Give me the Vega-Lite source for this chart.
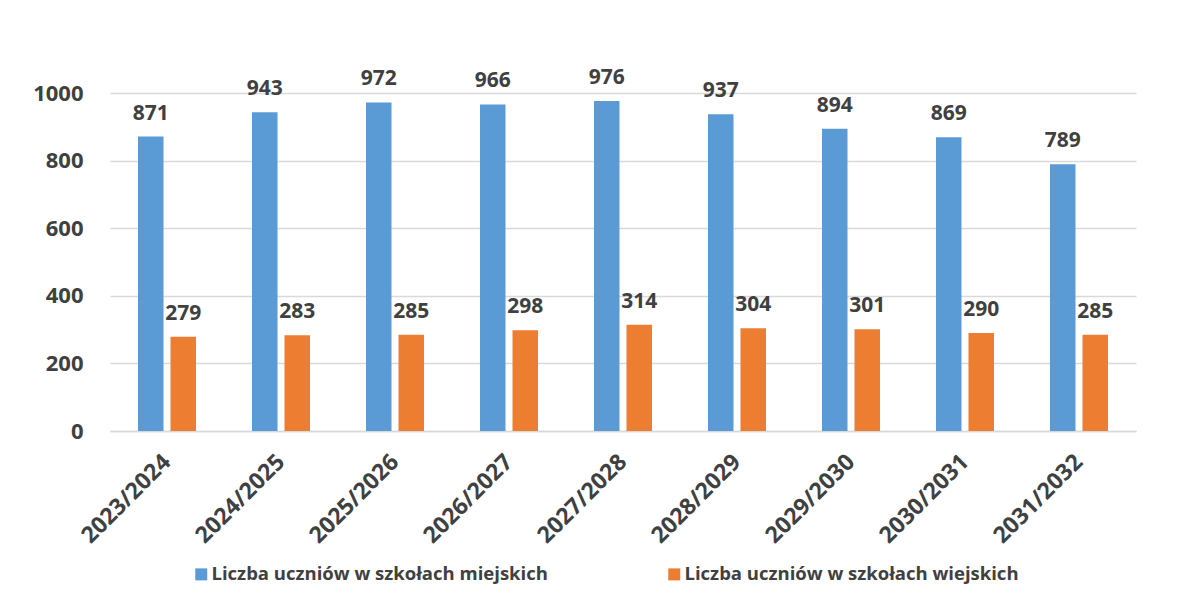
{
  "$schema": "https://vega.github.io/schema/vega-lite/v6.json",
  "width": 1026,
  "height": 338,
  "autosize": "none",
  "padding": {"left": 110, "top": 93, "right": 42, "bottom": 176},
  "background": "white",
  "config": {"view": {"stroke": null}, "font": "Open Sans"},
  "data": {
    "values": [
      {"rok": "2023/2024", "seria": "Liczba uczniów w szkołach miejskich", "wartosc": 871},
      {"rok": "2023/2024", "seria": "Liczba uczniów w szkołach wiejskich", "wartosc": 279},
      {"rok": "2024/2025", "seria": "Liczba uczniów w szkołach miejskich", "wartosc": 943},
      {"rok": "2024/2025", "seria": "Liczba uczniów w szkołach wiejskich", "wartosc": 283},
      {"rok": "2025/2026", "seria": "Liczba uczniów w szkołach miejskich", "wartosc": 972},
      {"rok": "2025/2026", "seria": "Liczba uczniów w szkołach wiejskich", "wartosc": 285},
      {"rok": "2026/2027", "seria": "Liczba uczniów w szkołach miejskich", "wartosc": 966},
      {"rok": "2026/2027", "seria": "Liczba uczniów w szkołach wiejskich", "wartosc": 298},
      {"rok": "2027/2028", "seria": "Liczba uczniów w szkołach miejskich", "wartosc": 976},
      {"rok": "2027/2028", "seria": "Liczba uczniów w szkołach wiejskich", "wartosc": 314},
      {"rok": "2028/2029", "seria": "Liczba uczniów w szkołach miejskich", "wartosc": 937},
      {"rok": "2028/2029", "seria": "Liczba uczniów w szkołach wiejskich", "wartosc": 304},
      {"rok": "2029/2030", "seria": "Liczba uczniów w szkołach miejskich", "wartosc": 894},
      {"rok": "2029/2030", "seria": "Liczba uczniów w szkołach wiejskich", "wartosc": 301},
      {"rok": "2030/2031", "seria": "Liczba uczniów w szkołach miejskich", "wartosc": 869},
      {"rok": "2030/2031", "seria": "Liczba uczniów w szkołach wiejskich", "wartosc": 290},
      {"rok": "2031/2032", "seria": "Liczba uczniów w szkołach miejskich", "wartosc": 789},
      {"rok": "2031/2032", "seria": "Liczba uczniów w szkołach wiejskich", "wartosc": 285}
    ]
  },
  "encoding": {
    "x": {
      "field": "rok", "type": "nominal", "sort": null,
      "scale": {"paddingInner": 0.491, "paddingOuter": 0.2456},
      "axis": {
        "title": null, "labelAngle": -45, "labelAlign": "right", "labelBaseline": "middle",
        "labelPadding": 27, "labelFontSize": 23, "labelFontWeight": "bold", "labelColor": "#404040",
        "ticks": false, "domainColor": "#d9d9d9", "domainWidth": 1.5, "grid": false
      }
    },
    "xOffset": {
      "field": "seria", "type": "nominal",
      "sort": ["Liczba uczniów w szkołach miejskich", "Liczba uczniów w szkołach wiejskich"],
      "scale": {"paddingInner": 0.215, "paddingOuter": 0}
    },
    "y": {
      "field": "wartosc", "type": "quantitative",
      "scale": {"domain": [0, 1000]},
      "axis": {
        "title": null, "values": [0, 200, 400, 600, 800, 1000], "format": "d",
        "labelFontSize": 22, "labelFontWeight": "bold", "labelColor": "#404040",
        "labelPadding": 27, "ticks": false, "domain": false,
        "gridColor": "#d9d9d9", "gridWidth": 1.3
      }
    }
  },
  "layer": [
    {
      "mark": {"type": "bar"},
      "encoding": {
        "color": {
          "field": "seria", "type": "nominal",
          "scale": {
            "domain": ["Liczba uczniów w szkołach miejskich", "Liczba uczniów w szkołach wiejskich"],
            "range": ["#5B9BD5", "#ED7D31"]
          },
          "legend": {
            "title": null, "orient": "none", "legendX": 82, "legendY": 472,
            "direction": "horizontal", "symbolType": "square", "symbolSize": 144,
            "symbolStrokeWidth": 0, "labelFontSize": 18.5, "labelFontWeight": "bold",
            "labelColor": "#404040", "labelOffset": 1, "columnPadding": 117,
            "labelLimit": 500
          }
        }
      }
    },
    {
      "mark": {"type": "text", "dy": -17, "baseline": "alphabetic", "fontWeight": "bold", "fontSize": 21, "color": "#404040"},
      "encoding": {"text": {"field": "wartosc", "type": "quantitative"}}
    }
  ]
}
